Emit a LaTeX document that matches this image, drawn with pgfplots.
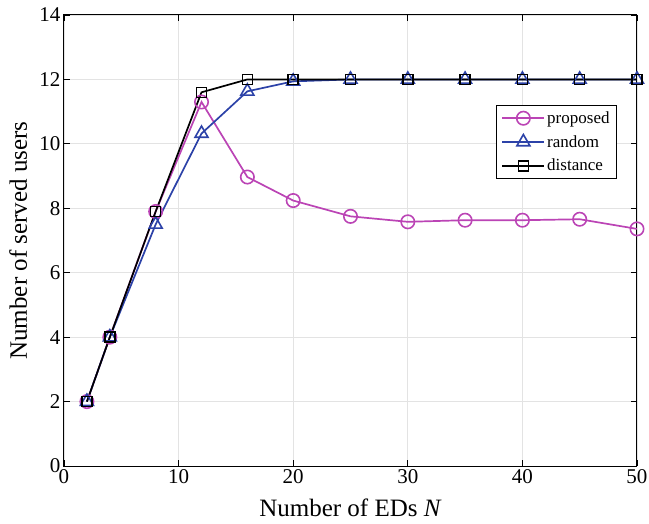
\documentclass[border=0pt]{standalone}
\usepackage{fontspec}
\setmainfont{Liberation Serif}
\usepackage{pgfplots}
\pgfplotsset{compat=1.18}
\definecolor{propC}{RGB}{187,68,181}
\definecolor{randC}{RGB}{44,66,168}
\begin{document}
\begin{tikzpicture}
\begin{axis}[
  name=main,
  width=573bp, height=451bp, scale only axis,
  xmin=0, xmax=50, ymin=0, ymax=14,
  xtick={0,10,...,50}, ytick={0,2,...,14},
  grid=major, major grid style={gray!22, line width=0.8bp},
  tick align=inside, tick style={black, line width=0.8bp},
  major tick length=6bp,
  axis line style={black, line width=1bp},
  /pgf/number format/assume math mode=true,
  tick label style={font=\fontsize{21bp}{21bp}\selectfont},
  label style={font=\fontsize{25bp}{25bp}\selectfont},
  xlabel={Number of EDs \textit{N}},
  ylabel={Number of served users},
  xlabel style={at={(axis description cs:0.5,-0.093)}, anchor=center},
  ylabel style={at={(axis description cs:-0.080,0.5)}, anchor=center},
  legend style={at={(0.965,0.80)}, anchor=north east, font=\fontsize{17bp}{17bp}\selectfont,
    draw=black, line width=0.8bp, row sep=6.5bp, inner xsep=5bp, inner ysep=4bp},
  legend cell align=left,
  legend image code/.code={\draw[mark repeat=2,mark phase=2] plot coordinates {(0bp,0bp) (21bp,0bp) (42bp,0bp)};},
]
\addplot[propC, line width=1.7bp, mark=o, mark size=6.7bp, mark options={line width=1.6bp}]
  coordinates {(2,2) (4,4) (8,7.9) (12,11.3) (16,8.97) (20,8.24) (25,7.75) (30,7.58) (35,7.63) (40,7.63) (45,7.66) (50,7.36)};
\addplot[randC, line width=1.7bp, mark=triangle, mark size=7.5bp, mark options={line width=1.6bp}]
  coordinates {(2,2) (4,4) (8,7.5) (12,10.32) (16,11.63) (20,11.94) (25,12) (30,12) (35,12) (40,12) (45,12) (50,12)};
\addplot[black, line width=1.7bp, mark=square, mark size=5bp, mark options={line width=1.6bp}]
  coordinates {(2,2) (4,4) (8,7.9) (12,11.6) (16,12) (20,12) (25,12) (30,12) (35,12) (40,12) (45,12) (50,12)};
\legend{proposed, random, distance}
\end{axis}
\pgfresetboundingbox
\path (main.south west) ++(-64bp,-58bp) rectangle ++(649bp,524bp);
\end{tikzpicture}
\end{document}
